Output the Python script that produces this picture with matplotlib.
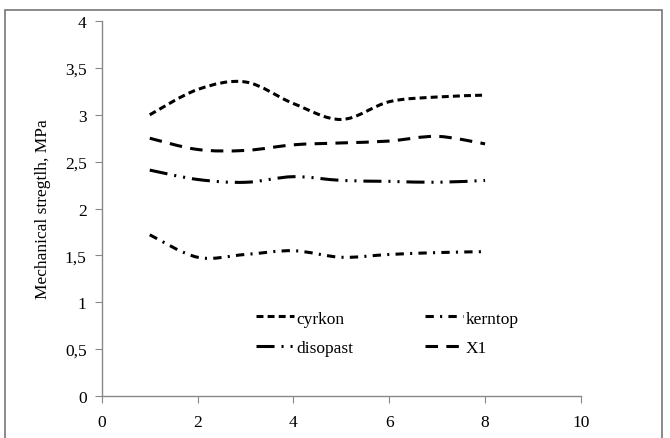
import numpy as np
import matplotlib.pyplot as plt
from matplotlib.path import Path
from matplotlib.patches import PathPatch, Rectangle
from matplotlib.lines import Line2D
from matplotlib.ticker import FuncFormatter

plt.rcParams['font.family'] = ['Liberation Serif', 'DejaVu Serif']
plt.rcParams['lines.scale_dashes'] = False

# data
x = [1, 2, 3, 4, 5, 6, 7, 8]
cyrkon = [3.00, 3.27, 3.35, 3.12, 2.95, 3.14, 3.19, 3.21]
x1 = [2.75, 2.63, 2.62, 2.68, 2.70, 2.72, 2.77, 2.69]
disopast = [2.41, 2.31, 2.28, 2.34, 2.30, 2.29, 2.28, 2.30]
kerntop = [1.72, 1.48, 1.51, 1.55, 1.48, 1.51, 1.53, 1.54]

# order so that the 2-column legend reads row by row like the original
names = ['cyrkon', 'disopast', 'kerntop', 'X1']
series = [cyrkon, disopast, kerntop, x1]
dashes = [(0, (5, 3)),
          (0, (13, 5, 1.5, 5, 1.5, 5)),
          (0, (6, 4.5, 1.5, 4.5)),
          (0, (9, 6))]
lw = 2.2


def smooth_path(xs, ys):
    # excel-like smoothed line: catmull-rom turned into bezier segments
    pts = np.column_stack([xs, ys]).astype(float)
    verts = [pts[0]]
    codes = [Path.MOVETO]
    n = len(pts)
    for i in range(n - 1):
        p0 = pts[i - 1] if i > 0 else pts[i]
        p1 = pts[i]
        p2 = pts[i + 1]
        p3 = pts[i + 2] if i + 2 < n else pts[i + 1]
        c1 = p1 + (p2 - p0) / 6.0
        c2 = p2 - (p3 - p1) / 6.0
        verts += [c1, c2, p2]
        codes += [Path.CURVE4] * 3
    return Path(verts, codes)


fig = plt.figure(figsize=(6.70, 4.39), dpi=100)
ax = fig.add_axes([0.152, 0.0957, 0.715, 0.854])

for ys, ls in zip(series, dashes):
    patch = PathPatch(smooth_path(x, ys), facecolor='none', edgecolor='black',
                      lw=lw, linestyle=ls, capstyle='butt')
    ax.add_patch(patch)

ax.set_xlim(0, 10)
ax.set_ylim(0, 4)
ax.set_xticks([0, 2, 4, 6, 8, 10])
ax.set_yticks(np.arange(0, 4.01, 0.5))
ax.yaxis.set_major_formatter(FuncFormatter(lambda v, p: ('%g' % v).replace('.', ',')))
ax.tick_params(labelsize=12.5, length=5, color='#888888', direction='out', pad=8)
ax.tick_params(axis='y', pad=6)
for s in ['top', 'right']:
    ax.spines[s].set_visible(False)
for s in ['left', 'bottom']:
    ax.spines[s].set_color('#888888')
    ax.spines[s].set_linewidth(1.0)
ax.set_ylabel('Mechanical stregtlh, MPa', fontsize=12.5, labelpad=10)

handles = [Line2D([], [], color='black', lw=lw, linestyle=ls) for ls in dashes]
ax.legend(handles, names, ncol=2, frameon=False, fontsize=12.5,
          loc='upper left', bbox_to_anchor=(0.289, 0.27),
          handlelength=2.2, handletextpad=0.15, columnspacing=4.1,
          labelspacing=0.78)

fig.patches.append(Rectangle((5 / 670, -0.01), 657 / 670, 1 - 11 / 439 + 0.01,
                             transform=fig.transFigure, fill=False,
                             edgecolor='#777777', lw=1.2))

fig.savefig('out.png', dpi=100)
